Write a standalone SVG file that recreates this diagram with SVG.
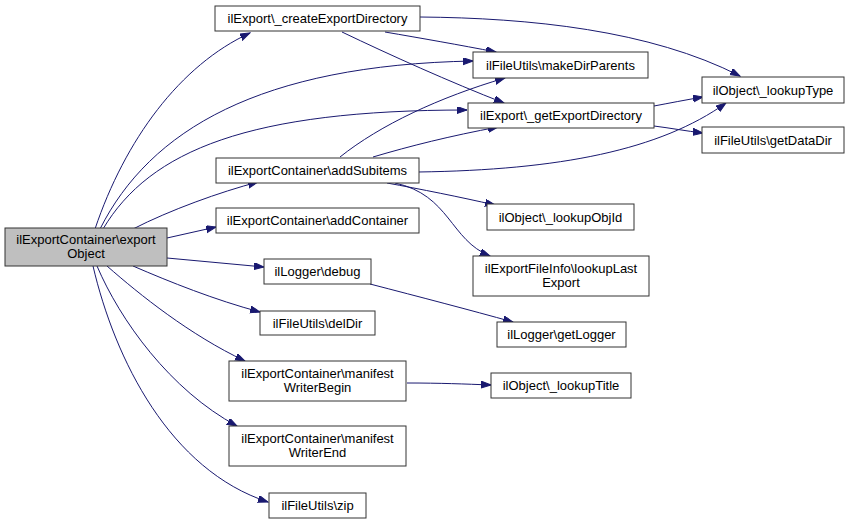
<svg xmlns="http://www.w3.org/2000/svg" width="852" height="524" viewBox="0 0 852 524">
<style>
.n rect{fill:#fff;stroke:#333;stroke-width:1}
.n.root rect{fill:#bfbfbf}
.n text{font-family:"Liberation Sans",Arial,sans-serif;font-size:13px;text-anchor:middle;fill:#000}
.e path{fill:none;stroke:#191970;stroke-width:1;marker-end:url(#ah)}
</style>
<defs>
<marker id="ah" markerUnits="userSpaceOnUse" markerWidth="11" markerHeight="8" refX="10" refY="3.5" orient="auto">
<path d="M0,0 L10,3.5 L0,7 z" fill="#191970" stroke="#191970" stroke-width="1"/>
</marker>
</defs>
<rect width="852" height="524" fill="#fff"/>
<g id="connectors" class="e">
<path d="M95,229 C125,140 180,65 250,33"/>
<path d="M100,229 C150,130 260,65 473,61"/>
<path d="M103,229 C150,150 250,110 467,110"/>
<path d="M133,229 C170,210 220,192 258,182"/>
<path d="M167,238 L216,227"/>
<path d="M167,258 L264,267"/>
<path d="M133,266 C170,282 215,300 260,312"/>
<path d="M107,266 C140,295 190,335 245,361"/>
<path d="M97,266 C120,320 170,390 237,426"/>
<path d="M93,266 C115,360 170,470 268,502"/>
<path d="M420,17 C530,18 650,30 740,76"/>
<path d="M385,32 C420,38 460,45 496,52"/>
<path d="M342,32 C390,55 450,82 504,103"/>
<path d="M654,106 C670,103 685,100 703,97"/>
<path d="M654,126 C670,128 686,131 703,133"/>
<path d="M418,172 C560,170 660,150 726,103"/>
<path d="M340,157 C380,125 440,97 505,78"/>
<path d="M373,157 C410,146 450,136 498,127"/>
<path d="M387,183 C420,189 460,197 495,205"/>
<path d="M395,183 C450,195 450,240 490,256"/>
<path d="M370,284 C420,297 470,310 513,322"/>
<path d="M407,383 C440,383 465,384 491,385"/>
</g>
<g id="n_root" class="n root"><rect x="5" y="228" width="162" height="38"/><text x="86" y="244">ilExportContainer\export</text><text x="86" y="258">Object</text></g>
<g id="n_createExportDirectory" class="n"><rect x="215" y="6" width="205" height="25"/><text x="317.5" y="23">ilExport\_createExportDirectory</text></g>
<g id="n_makeDirParents" class="n"><rect x="473" y="52" width="175" height="26"/><text x="560.5" y="69.5">ilFileUtils\makeDirParents</text></g>
<g id="n_getExportDirectory" class="n"><rect x="468" y="103" width="186" height="25"/><text x="561" y="120">ilExport\_getExportDirectory</text></g>
<g id="n_lookupType" class="n"><rect x="702" y="77" width="142" height="26"/><text x="773" y="94.5">ilObject\_lookupType</text></g>
<g id="n_getDataDir" class="n"><rect x="702" y="127" width="142" height="26"/><text x="773" y="144.5">ilFileUtils\getDataDir</text></g>
<g id="n_addSubitems" class="n"><rect x="216" y="158" width="203" height="25"/><text x="317.5" y="175">ilExportContainer\addSubitems</text></g>
<g id="n_addContainer" class="n"><rect x="216" y="208" width="203" height="25"/><text x="317.5" y="225">ilExportContainer\addContainer</text></g>
<g id="n_lookupObjId" class="n"><rect x="487" y="204" width="147" height="26"/><text x="560.5" y="221.5">ilObject\_lookupObjId</text></g>
<g id="n_lookupLastExport" class="n"><rect x="473" y="256" width="176" height="40"/><text x="561" y="272.5">ilExportFileInfo\lookupLast</text><text x="561" y="286.5">Export</text></g>
<g id="n_debug" class="n"><rect x="264" y="259" width="107" height="25"/><text x="317.5" y="276">ilLogger\debug</text></g>
<g id="n_delDir" class="n"><rect x="260" y="311" width="115" height="24"/><text x="317.5" y="327.5">ilFileUtils\delDir</text></g>
<g id="n_getLogger" class="n"><rect x="497" y="322" width="129" height="25"/><text x="561.5" y="339">ilLogger\getLogger</text></g>
<g id="n_manifestWriterBegin" class="n"><rect x="229" y="361" width="177" height="40"/><text x="317.5" y="377.5">ilExportContainer\manifest</text><text x="317.5" y="391.5">WriterBegin</text></g>
<g id="n_lookupTitle" class="n"><rect x="491" y="373" width="140" height="25"/><text x="561" y="390">ilObject\_lookupTitle</text></g>
<g id="n_manifestWriterEnd" class="n"><rect x="229" y="426" width="177" height="40"/><text x="317.5" y="442.5">ilExportContainer\manifest</text><text x="317.5" y="456.5">WriterEnd</text></g>
<g id="n_zip" class="n"><rect x="269" y="493" width="97" height="25"/><text x="317.5" y="510">ilFileUtils\zip</text></g>
</svg>
